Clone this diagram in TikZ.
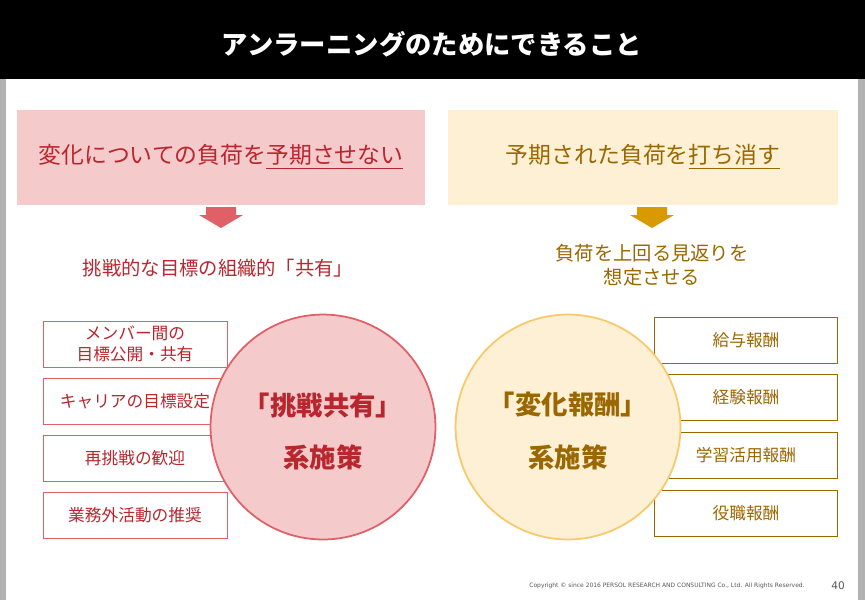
\documentclass[tikz,border=0pt]{standalone}
\usepackage{fontspec}
\setmainfont{Noto Sans CJK JP}
\newfontfamily\latinfont{DejaVu Sans}
\definecolor{pinkfill}{HTML}{F5CACB}
\definecolor{pinkline}{HTML}{E06068}
\definecolor{redtext}{HTML}{B8262E}
\definecolor{creamfill}{HTML}{FDF0D5}
\definecolor{goldline}{HTML}{F7C96A}
\definecolor{browntext}{HTML}{9A6700}
\definecolor{goldarrow}{HTML}{D89A00}
\tikzset{
  redbox/.style={draw=pinkline,fill=white,minimum width=3.68cm,minimum height=0.92cm,
    text=redtext,font=\fontsize{9.5}{12}\selectfont,align=center,inner sep=1pt},
  brownbox/.style={draw=browntext,fill=white,minimum width=3.66cm,minimum height=0.92cm,
    text=browntext,font=\fontsize{9.5}{12}\selectfont,align=center,inner sep=1pt}
}
\newcommand\blockarrow[2]{%
  \fill[#2] (#1-15,207) -- (#1+15,207) -- (#1+15,215) -- (#1+22,215) -- (#1,228)
    -- (#1-22,215) -- (#1-15,215) -- cycle;}
\begin{document}
\begin{tikzpicture}[x=0.02cm,y=-0.02cm]
   \useasboundingbox (0,0) rectangle (865,600);
   \fill[white] (0,0) rectangle (865,600);
   \fill[black] (0,0) rectangle (865,79);
   \fill[gray!60] (0,79) rectangle (6,600);
   \fill[gray!60] (858,79) rectangle (865,600);
   \node[text=white,font=\fontsize{15}{18}\selectfont\bfseries] (title) at (432,44) {アンラーニングのためにできること};

   % left side
   \node[fill=pinkfill,minimum width=8.16cm,minimum height=1.9cm] (lhead) at (221,157) {};
   \node[text=redtext,font=\fontsize{13}{16}\selectfont] (lheadtxt) at (lhead) {変化についての負荷を\underline{予期させない}};
   \blockarrow{221}{pinkline}
   \node[text=redtext,font=\fontsize{11}{14}\selectfont] (lsub) at (218,268) {挑戦的な目標の組織的「共有」};
   \node[redbox] (l1) at (135,344) {メンバー間の\\目標公開・共有};
   \node[redbox] (l2) at (135,401) {キャリアの目標設定};
   \node[redbox] (l3) at (135,458) {再挑戦の歓迎};
   \node[redbox] (l4) at (135,515) {業務外活動の推奨};
   \node[circle,draw=pinkline,line width=1pt,fill=pinkfill,minimum size=4.5cm] (lcirc) at (323,427) {};
   \node[text=redtext,font=\fontsize{15}{18}\selectfont\bfseries] (lc1) at (323,405) {「挑戦共有」};
   \node[text=redtext,font=\fontsize{15}{18}\selectfont\bfseries] (lc2) at (323,457) {系施策};

   % right side
   \node[fill=creamfill,minimum width=7.8cm,minimum height=1.9cm] (rhead) at (643,157) {};
   \node[text=browntext,font=\fontsize{13}{16}\selectfont] (rheadtxt) at (rhead) {予期された負荷を\underline{打ち消す}};
   \blockarrow{652}{goldarrow}
   \node[text=browntext,font=\fontsize{11}{14}\selectfont,align=center] (rsub) at (652,265) {負荷を上回る見返りを\\想定させる};
   \node[brownbox] (r1) at (746,340) {給与報酬};
   \node[brownbox] (r2) at (746,397) {経験報酬};
   \node[brownbox] (r3) at (746,455) {学習活用報酬};
   \node[brownbox] (r4) at (746,513) {役職報酬};
   \node[circle,draw=goldline,line width=1pt,fill=creamfill,minimum size=4.5cm] (rcirc) at (568,427) {};
   \node[text=browntext,font=\fontsize{15}{18}\selectfont\bfseries] (rc1) at (568,405) {「変化報酬」};
   \node[text=browntext,font=\fontsize{15}{18}\selectfont\bfseries] (rc2) at (568,457) {系施策};

   % footer
   \node[text=gray!70!black,font=\latinfont\fontsize{3.4}{4}\selectfont] (copy) at (667,586) {Copyright © since 2016 PERSOL RESEARCH AND CONSULTING Co., Ltd. All Rights Reserved.};
   \node[text=gray!70!black,font=\latinfont\fontsize{6}{7}\selectfont] (page) at (838,586) {40};
\end{tikzpicture}
\end{document}
